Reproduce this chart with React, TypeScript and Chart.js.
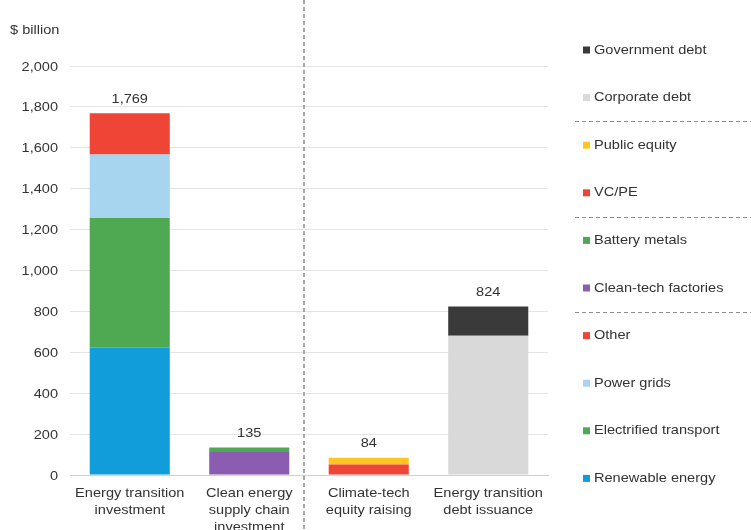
import React, { useEffect, useRef } from "react";
import { Chart, registerables } from "chart.js";

Chart.register(...registerables);

const categories: string[][] = [
  ["Energy transition", "investment"],
  ["Clean energy", "supply chain", "investment"],
  ["Climate-tech", "equity raising"],
  ["Energy transition", "debt issuance"],
];

const renewableEnergy = [623, null, null, null];
const electrifiedTransport = [634, null, null, null];
const powerGrids = [310, null, null, null];
const other = [202, null, null, null];
const cleanTechFactories = [null, 112, null, null];
const batteryMetals = [null, 23, null, null];
const vcPe = [null, null, 51, null];
const publicEquity = [null, null, 33, null];
const corporateDebt = [null, null, null, 681];
const governmentDebt = [null, null, null, 143];

const yTicks = [0, 200, 400, 600, 800, 1000, 1200, 1400, 1600, 1800, 2000];

const FONT = "'Liberation Sans', Arial, sans-serif";
const TEXT = "#333333";
const SX = 1.12; // horizontal text stretch seen in the reference

const seriesDefs = [
  { label: "Renewable energy", data: renewableEnergy, color: "#109DDA" },
  { label: "Electrified transport", data: electrifiedTransport, color: "#4EA952" },
  { label: "Power grids", data: powerGrids, color: "#A7D4EE" },
  { label: "Other", data: other, color: "#EF4536" },
  { label: "Clean-tech factories", data: cleanTechFactories, color: "#8A5DB0" },
  { label: "Battery metals", data: batteryMetals, color: "#4EA952" },
  { label: "VC/PE", data: vcPe, color: "#EF4536" },
  { label: "Public equity", data: publicEquity, color: "#FFC622" },
  { label: "Corporate debt", data: corporateDebt, color: "#D9D9D9" },
  { label: "Government debt", data: governmentDebt, color: "#3A3A3A" },
];

function txt(ctx: CanvasRenderingContext2D, s: string, x: number, y: number, align: CanvasTextAlign) {
  ctx.save();
  ctx.translate(x, y);
  ctx.scale(SX, 1);
  ctx.textAlign = align;
  ctx.textBaseline = "middle";
  ctx.fillText(s, 0, 0);
  ctx.restore();
}

const decorPlugin = {
  id: "decor",
  afterDraw(chart: any) {
    const ctx = chart.ctx as CanvasRenderingContext2D;
    const area = chart.chartArea;
    const xs = chart.scales.x;
    const ys = chart.scales.y;
    ctx.save();
    ctx.font = `13px ${FONT}`;
    ctx.fillStyle = TEXT;

    // axis title
    txt(ctx, "$ billion", 10, 30, "left");

    // y tick labels
    ys.ticks.forEach((t: any) => {
      const y = ys.getPixelForValue(t.value);
      txt(ctx, Number(t.value).toLocaleString("en-US"), area.left - 12, y + 1, "right");
    });

    // x category labels
    categories.forEach((lines, i) => {
      const x = xs.getPixelForValue(i);
      lines.forEach((ln, j) => {
        txt(ctx, ln, x, area.bottom + 18 + j * 17, "center");
      });
    });

    // totals
    for (let i = 0; i < categories.length; i++) {
      let total = 0;
      chart.data.datasets.forEach((d: any) => {
        const v = d.data[i];
        if (typeof v === "number") total += v;
      });
      const x = xs.getPixelForValue(i);
      const y = ys.getPixelForValue(total);
      txt(ctx, total.toLocaleString("en-US"), x, y - 14, "center");
    }

    // vertical separator
    const sepX = (xs.getPixelForValue(1) + xs.getPixelForValue(2)) / 2 - 5;
    ctx.strokeStyle = "#8c8c8c";
    ctx.lineWidth = 1.5;
    ctx.setLineDash([4, 3]);
    ctx.beginPath();
    ctx.moveTo(sepX, 0);
    ctx.lineTo(sepX, chart.height);
    ctx.stroke();

    // legend
    const items = [...chart.data.datasets].reverse();
    const lx = area.right + 35;
    const startY = 50;
    const step = 47.6;
    ctx.setLineDash([]);
    items.forEach((d: any, i: number) => {
      const y = startY + i * step;
      ctx.fillStyle = d.backgroundColor;
      ctx.fillRect(lx, y - 3.5, 7, 7);
      ctx.fillStyle = TEXT;
      txt(ctx, d.label, lx + 11, y, "left");
    });
    ctx.strokeStyle = "#8c8c8c";
    ctx.lineWidth = 1;
    ctx.setLineDash([4, 3]);
    [1, 3, 5].forEach((i) => {
      const y = Math.round(startY + (i + 0.5) * step) + 0.5;
      ctx.beginPath();
      ctx.moveTo(area.right + 27, y);
      ctx.lineTo(chart.width, y);
      ctx.stroke();
    });
    ctx.restore();
  },
};

export default function App() {
  const ref = useRef<HTMLCanvasElement | null>(null);

  useEffect(() => {
    if (!ref.current) return;
    const chart = new Chart(ref.current, {
      type: "bar",
      data: {
        labels: categories.map((c) => c.join(" ")),
        datasets: seriesDefs.map((s) => ({
          label: s.label,
          data: s.data as any,
          backgroundColor: s.color,
          borderWidth: 0,
          categoryPercentage: 1,
          barPercentage: 0.67,
        })),
      },
      options: {
        responsive: false,
        animation: false,
        layout: { padding: { top: 66, right: 203, left: 0, bottom: 0 } },
        plugins: {
          legend: { display: false },
          tooltip: { enabled: false },
        },
        scales: {
          x: {
            stacked: true,
            grid: { display: false, drawTicks: false },
            border: { display: true, color: "#d0d0d0" },
            ticks: { display: false },
            afterFit: (s: any) => {
              s.height = 55;
            },
          },
          y: {
            stacked: true,
            min: 0,
            max: 2000,
            afterBuildTicks: (s: any) => {
              s.ticks = yTicks.map((v) => ({ value: v }));
            },
            grid: { color: "#e4e4e4", drawTicks: false },
            border: { display: false },
            ticks: { display: false },
            afterFit: (s: any) => {
              s.width = 70;
            },
          },
        },
      },
      plugins: [decorPlugin],
    });
    return () => chart.destroy();
  }, []);

  return (
    <div style={{ position: "absolute", left: 0, top: 0, width: 751, height: 530, background: "#fff" }}>
      <canvas ref={ref} width={751} height={530} style={{ display: "block" }} />
    </div>
  );
}
